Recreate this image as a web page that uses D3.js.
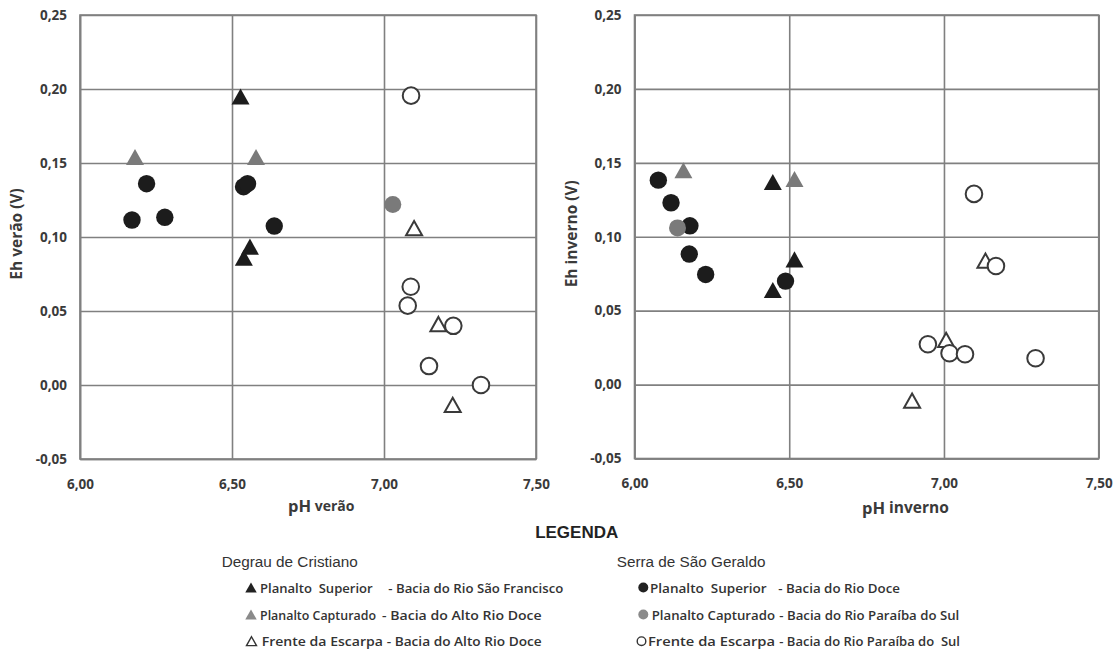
<!DOCTYPE html>
<html><head><meta charset="utf-8">
<script src="https://cdn.jsdelivr.net/npm/d3@7"></script>
<style>
body{margin:0;background:#fff}
svg{display:block}
text{white-space:pre}
</style></head><body>
<svg id="c" width="1116" height="650"></svg>
<script>
// ---- data ----
const xTicks = [6.00, 6.50, 7.00, 7.50];
const yTicks = [-0.05, 0.00, 0.05, 0.10, 0.15, 0.20, 0.25];

// summer (verão): [pH, Eh]
const veraoDcSuperior  = [[6.528,0.195],[6.559,0.0935],[6.539,0.086]];
const veraoDcCapturado = [[6.181,0.154],[6.579,0.154]];
const veraoDcEscarpa   = [[7.099,0.106],[7.179,0.0412],[7.226,-0.0135]];
const veraoSgSuperior  = [[6.219,0.136],[6.538,0.134],[6.551,0.136],[6.171,0.1115],[6.279,0.1133],[6.639,0.1074]];
const veraoSgCapturado = [[7.029,0.122]];
const veraoSgEscarpa   = [[7.089,0.1955],[7.088,0.0664],[7.078,0.0536],[7.228,0.040],[7.148,0.0128],[7.319,0.0]];

// winter (inverno): [pH, Eh]
const invernoDcSuperior  = [[6.447,0.137],[6.517,0.0847],[6.447,0.064]];
const invernoDcCapturado = [[6.158,0.145],[6.517,0.139]];
const invernoDcEscarpa   = [[7.134,0.0838],[7.007,0.0302],[6.897,-0.0108]];
const invernoSgSuperior  = [[6.077,0.1383],[6.118,0.123],[6.179,0.1074],[6.177,0.0883],[6.230,0.0745],[6.488,0.070]];
const invernoSgCapturado = [[6.139,0.106]];
const invernoSgEscarpa   = [[7.097,0.129],[7.168,0.0802],[6.948,0.0273],[7.018,0.0212],[7.068,0.0205],[7.296,0.0178]];

const legendGroups = ["Degrau de Cristiano", "Serra de São Geraldo"];
const legendLeftA  = ["Planalto  Superior", "Planalto Capturado", "Frente da Escarpa"];
const legendLeftB  = ["- Bacia do Rio São Francisco", "- Bacia do Alto Rio Doce", "- Bacia do Alto Rio Doce"];
const legendRightA = ["Planalto  Superior", "Planalto Capturado", "Frente da Escarpa"];
const legendRightB = ["- Bacia do Rio Doce", "- Bacia do Rio Paraíba do Sul", "- Bacia do Rio Paraíba do  Sul"];

// ---- drawing ----
const svg = d3.select("#c");
const loc = d3.formatLocale({decimal:",", thousands:".", grouping:[3], currency:["",""], minus:"-"});
const fmt = loc.format(".2f");

const triBox = {draw(ctx, size){ const w=Math.sqrt(size), h=w*0.89;
  ctx.moveTo(0,-h/2); ctx.lineTo(w/2,h/2); ctx.lineTo(-w/2,h/2); ctx.closePath(); }};

const GRID = "#808080", TXT = "#3a3a3a";
const styles = {
  dcSup: {type:triBox, size:18*18, fill:"#1c1c1c", stroke:"none", sw:0},
  dcCap: {type:triBox, size:18*18, fill:"#7a7a7a", stroke:"none", sw:0},
  dcEsc: {type:triBox, size:16*16, fill:"#fff", stroke:"#3a3a3a", sw:2},
  sgSup: {type:d3.symbolCircle, size:Math.PI*8.7*8.7, fill:"#1c1c1c", stroke:"none", sw:0},
  sgCap: {type:d3.symbolCircle, size:Math.PI*8.5*8.5, fill:"#7a7a7a", stroke:"none", sw:0},
  sgEsc: {type:d3.symbolCircle, size:Math.PI*8.3*8.3, fill:"#fff", stroke:"#3a3a3a", sw:2}
};

function panel(cfg){
  const g = svg.append("g");
  const x = d3.scaleLinear().domain([6, 7.5]).range([cfg.x0, cfg.x1]);
  const y = d3.scaleLinear().domain([-0.05, 0.25]).range([cfg.y1, cfg.y0]);
  const W = cfg.x1-cfg.x0, H = cfg.y1-cfg.y0;

  const ya = g.append("g").attr("transform", `translate(${cfg.x0},0)`)
    .call(d3.axisLeft(y).tickValues(yTicks).tickFormat(fmt).tickSizeInner(-W).tickSizeOuter(0).tickPadding(13));
  const xa = g.append("g").attr("transform", `translate(0,${cfg.y1})`)
    .call(d3.axisBottom(x).tickValues(xTicks).tickFormat(fmt).tickSizeInner(-H).tickSizeOuter(0).tickPadding(20));
  [ya, xa].forEach(a => {
    a.selectAll("line").attr("stroke", GRID).attr("stroke-width", 1.6);
    a.select(".domain").attr("stroke", GRID).attr("stroke-width", 1.6);
    a.selectAll("text").attr("font-family", "'Open Sans'").attr("font-weight", 700)
      .attr("font-size", 13.5).attr("fill", TXT);
  });
  g.append("rect").attr("x", cfg.x0).attr("y", cfg.y0).attr("width", W).attr("height", H)
    .attr("fill", "none").attr("stroke", GRID).attr("stroke-width", 1.6);

  // y title
  g.append("text").attr("transform", `translate(${cfg.x0-64},${(cfg.y0+cfg.y1)/2-3}) rotate(-90)`)
    .attr("text-anchor", "middle").attr("dominant-baseline", "central")
    .attr("font-family", "'Open Sans'").attr("font-weight", 700).attr("font-size", 15.5).attr("fill", TXT)
    .text(cfg.ytitle);
  // x title
  const xt = g.append("text").attr("x", cfg.xtX).attr("y", cfg.xtY).attr("dominant-baseline", "central")
    .attr("font-family", "'Open Sans'").attr("font-weight", 700).attr("fill", TXT);
  xt.append("tspan").attr("font-size", 16.5).text("pH");
  xt.append("tspan").attr("font-size", cfg.xsub).text(" " + cfg.xword);

  cfg.series.forEach(([data, st]) => {
    const s = styles[st];
    g.append("g").selectAll("path").data(data).join("path")
      .attr("transform", d => `translate(${x(d[0])},${y(d[1])})`)
      .attr("d", d3.symbol().type(s.type).size(s.size))
      .attr("fill", s.fill).attr("stroke", s.stroke).attr("stroke-width", s.sw);
  });
}

panel({x0:80, x1:536, y0:15, y1:459, ytitle:"Eh verão (V)", xtX:288, xtY:505, xword:"verão", xsub:14,
  series:[[veraoDcSuperior,"dcSup"],[veraoDcCapturado,"dcCap"],[veraoDcEscarpa,"dcEsc"],
          [veraoSgSuperior,"sgSup"],[veraoSgCapturado,"sgCap"],[veraoSgEscarpa,"sgEsc"]]});
panel({x0:634.5, x1:1098.7, y0:15, y1:458.5, ytitle:"Eh inverno (V)", xtX:862, xtY:507, xword:"inverno", xsub:15.5,
  series:[[invernoDcSuperior,"dcSup"],[invernoDcCapturado,"dcCap"],[invernoDcEscarpa,"dcEsc"],
          [invernoSgSuperior,"sgSup"],[invernoSgCapturado,"sgCap"],[invernoSgEscarpa,"sgEsc"]]});

// ---- legend ----
const L = svg.append("g");
L.append("text").attr("x", 576.7).attr("y", 532).attr("text-anchor", "middle").attr("dominant-baseline", "central")
  .attr("font-family", "'Liberation Sans'").attr("font-weight", 700).attr("font-size", 17).attr("fill", "#222")
  .text("LEGENDA");
L.selectAll("text.grp").data(legendGroups).join("text").attr("class", "grp")
  .attr("x", (d,i) => [221.7, 616.7][i]).attr("y", 561).attr("dominant-baseline", "central")
  .attr("font-family", "'Liberation Sans'").attr("font-size", 15.3).attr("fill", "#333").text(d => d);

const rowY = [587.5, 614.5, 641.2];
const itemFont = sel => sel.attr("font-family", "'Open Sans'").attr("font-weight", 600)
  .attr("font-size", 12.8).attr("fill", "#333").attr("dominant-baseline", "central")
  .attr("lengthAdjust", "spacingAndGlyphs");

function legendCol(cls, labels, xs, widths){
  L.selectAll("text." + cls).data(labels).join("text").attr("class", cls)
    .attr("x", (d,i) => xs[i]).attr("y", (d,i) => rowY[i]).call(itemFont)
    .attr("textLength", (d,i) => widths[i]).text(d => d);
}
legendCol("la", legendLeftA,  [260, 260, 261.7],       [112.7, 116, 121.3]);
legendCol("lb", legendLeftB,  [388.3, 382, 386.7],     [175, 159.7, 155]);
legendCol("ra", legendRightA, [650, 651.7, 648],       [116.7, 123.3, 127]);
legendCol("rb", legendRightB, [778.3, 779.3, 779.3],   [121.7, 180, 180.7]);

const legMarks = [
  {x:251, i:0, type:triBox, size:11.5*11.5, fill:"#222", stroke:"none", sw:0},
  {x:251, i:1, type:triBox, size:11.5*11.5, fill:"#8a8a8a", stroke:"none", sw:0},
  {x:251.5, i:2, type:triBox, size:10*10, fill:"#fff", stroke:"#333", sw:1.4},
  {x:643.3, i:0, type:d3.symbolCircle, size:Math.PI*5*5, fill:"#222", stroke:"none", sw:0},
  {x:643.3, i:1, type:d3.symbolCircle, size:Math.PI*5*5, fill:"#8a8a8a", stroke:"none", sw:0},
  {x:641.5, i:2, type:d3.symbolCircle, size:Math.PI*4.3*4.3, fill:"#fff", stroke:"#333", sw:1.4}
];
L.selectAll("path.lm").data(legMarks).join("path").attr("class", "lm")
  .attr("transform", d => `translate(${d.x},${rowY[d.i]})`)
  .attr("d", d => d3.symbol().type(d.type).size(d.size)())
  .attr("fill", d => d.fill).attr("stroke", d => d.stroke).attr("stroke-width", d => d.sw);
</script>
</body></html>
